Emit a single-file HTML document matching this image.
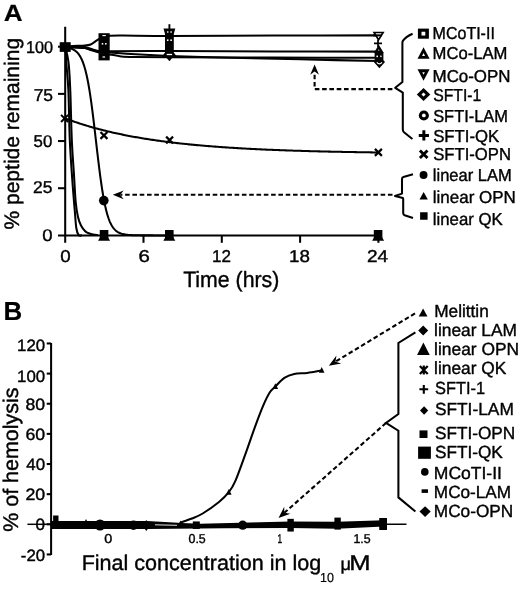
<!DOCTYPE html>
<html><head><meta charset="utf-8"><title>Figure</title>
<style>
html,body{margin:0;padding:0;background:#fff;}
body{width:520px;height:592px;overflow:hidden;}
svg{display:block;}
svg text{font-family:"Liberation Sans",sans-serif;fill:#000;stroke-linejoin:round;text-rendering:geometricPrecision;}
</style></head><body>
<svg width="520" height="592" viewBox="0 0 520 592">
<rect width="520" height="592" fill="#fff"/>
<g style="opacity:0.9999">
<g id="panelA">
<text transform="translate(3.85,21.10) scale(1.1162,1)" font-size="23.4" font-weight="bold" stroke="#000" stroke-width="0.2">A</text>
<path d="M65.2,26.8 V242.8 M58,235.4 H379.40" stroke="#000" stroke-width="2.05" fill="none"/>
<path d="M58,188.23 H65.2" stroke="#000" stroke-width="2.05"/>
<path d="M58,141.05 H65.2" stroke="#000" stroke-width="2.05"/>
<path d="M58,93.88 H65.2" stroke="#000" stroke-width="2.05"/>
<path d="M58,46.70 H65.2" stroke="#000" stroke-width="2.05"/>
<path d="M143.50,235.4 V242.8" stroke="#000" stroke-width="2.05"/>
<path d="M221.80,235.4 V242.8" stroke="#000" stroke-width="2.05"/>
<path d="M300.10,235.4 V242.8" stroke="#000" stroke-width="2.05"/>
<path d="M378.40,235.4 V242.8" stroke="#000" stroke-width="2.05"/>
<text transform="translate(26.08,53.40) scale(0.9533,1)" font-size="17.0" font-weight="normal" stroke="#000" stroke-width="0.4">100</text>
<text transform="translate(33.63,100.50) scale(1.0265,1)" font-size="17.0" font-weight="normal" stroke="#000" stroke-width="0.4">75</text>
<text transform="translate(33.53,146.50) scale(0.9889,1)" font-size="17.0" font-weight="normal" stroke="#000" stroke-width="0.4">50</text>
<text transform="translate(32.93,192.60) scale(1.0265,1)" font-size="17.0" font-weight="normal" stroke="#000" stroke-width="0.4">25</text>
<text transform="translate(42.26,240.60) scale(1.0907,1)" font-size="17.0" font-weight="normal" stroke="#000" stroke-width="0.4">0</text>
<text transform="translate(60.25,262.30) scale(1.0901,1)" font-size="17.2" font-weight="normal" stroke="#000" stroke-width="0.4">0</text>
<text transform="translate(138.48,262.30) scale(1.1878,1)" font-size="17.2" font-weight="normal" stroke="#000" stroke-width="0.4">6</text>
<text transform="translate(211.92,262.30) scale(0.9916,1)" font-size="17.2" font-weight="normal" stroke="#000" stroke-width="0.4">12</text>
<text transform="translate(289.09,262.30) scale(1.0927,1)" font-size="17.2" font-weight="normal" stroke="#000" stroke-width="0.4">18</text>
<text transform="translate(366.95,262.30) scale(1.1063,1)" font-size="17.2" font-weight="normal" stroke="#000" stroke-width="0.4">24</text>
<text transform="translate(183.17,286.80) scale(0.9588,1)" font-size="22.2" font-weight="normal" stroke="#000" stroke-width="0.4">Time (hrs)</text>
<text transform="translate(18.50,229.54) rotate(-90) scale(1.0010,1)" font-size="21.0" font-weight="normal" stroke="#000" stroke-width="0.4">% peptide remaining</text>
<path d="M65.20,118.41 L66.51,118.90 L67.81,119.38 L69.12,119.86 L70.42,120.33 L71.73,120.79 L73.03,121.25 L74.34,121.70 L75.64,122.14 L76.95,122.58 L78.25,123.02 L79.56,123.44 L80.86,123.86 L82.17,124.28 L83.47,124.69 L84.78,125.09 L86.08,125.49 L87.39,125.88 L88.69,126.27 L90.00,126.65 L91.30,127.02 L92.61,127.39 L93.91,127.76 L95.22,128.12 L96.52,128.48 L97.83,128.83 L99.13,129.17 L100.44,129.51 L101.74,129.85 L103.05,130.18 L104.35,130.51 L105.66,130.83 L106.96,131.15 L108.27,131.46 L109.57,131.77 L110.88,132.08 L112.18,132.38 L113.49,132.67 L114.79,132.96 L116.09,133.25 L117.40,133.54 L118.70,133.82 L120.01,134.09 L121.31,134.37 L122.62,134.63 L123.93,134.90 L125.23,135.16 L126.54,135.42 L127.84,135.67 L129.15,135.92 L130.45,136.17 L131.75,136.41 L133.06,136.65 L134.37,136.89 L135.67,137.12 L136.98,137.35 L138.28,137.58 L139.59,137.81 L140.89,138.03 L142.19,138.24 L143.50,138.46 L144.81,138.67 L146.11,138.88 L147.42,139.09 L148.72,139.29 L150.03,139.49 L151.33,139.69 L152.63,139.88 L153.94,140.07 L155.25,140.26 L156.55,140.45 L157.86,140.63 L159.16,140.82 L160.47,140.99 L161.77,141.17 L163.07,141.34 L164.38,141.52 L165.69,141.69 L166.99,141.85 L168.30,142.02 L169.60,142.18 L170.91,142.34 L172.21,142.50 L173.52,142.65 L174.82,142.81 L176.12,142.96 L177.43,143.11 L178.74,143.25 L180.04,143.40 L181.35,143.54 L182.65,143.68 L183.95,143.82 L185.26,143.96 L186.56,144.10 L187.87,144.23 L189.18,144.36 L190.48,144.49 L191.78,144.62 L193.09,144.74 L194.40,144.87 L195.70,144.99 L197.00,145.11 L198.31,145.23 L199.62,145.35 L200.92,145.47 L202.23,145.58 L203.53,145.69 L204.83,145.80 L206.14,145.91 L207.44,146.02 L208.75,146.13 L210.06,146.23 L211.36,146.34 L212.67,146.44 L213.97,146.54 L215.28,146.64 L216.58,146.74 L217.88,146.83 L219.19,146.93 L220.50,147.02 L221.80,147.12 L223.11,147.21 L224.41,147.30 L225.72,147.39 L227.02,147.47 L228.32,147.56 L229.63,147.65 L230.94,147.73 L232.24,147.81 L233.55,147.89 L234.85,147.98 L236.16,148.05 L237.46,148.13 L238.77,148.21 L240.07,148.29 L241.38,148.36 L242.68,148.44 L243.99,148.51 L245.29,148.58 L246.60,148.65 L247.90,148.72 L249.20,148.79 L250.51,148.86 L251.81,148.93 L253.12,148.99 L254.43,149.06 L255.73,149.12 L257.04,149.19 L258.34,149.25 L259.65,149.31 L260.95,149.37 L262.25,149.43 L263.56,149.49 L264.87,149.55 L266.17,149.61 L267.48,149.66 L268.78,149.72 L270.08,149.78 L271.39,149.83 L272.69,149.88 L274.00,149.94 L275.31,149.99 L276.61,150.04 L277.92,150.09 L279.22,150.14 L280.53,150.19 L281.83,150.24 L283.13,150.29 L284.44,150.33 L285.75,150.38 L287.05,150.43 L288.36,150.47 L289.66,150.52 L290.97,150.56 L292.27,150.60 L293.57,150.65 L294.88,150.69 L296.19,150.73 L297.49,150.77 L298.80,150.81 L300.10,150.85 L301.41,150.89 L302.71,150.93 L304.02,150.97 L305.32,151.01 L306.62,151.05 L307.93,151.08 L309.24,151.12 L310.54,151.15 L311.84,151.19 L313.15,151.22 L314.46,151.26 L315.76,151.29 L317.06,151.33 L318.37,151.36 L319.68,151.39 L320.98,151.42 L322.28,151.46 L323.59,151.49 L324.89,151.52 L326.20,151.55 L327.50,151.58 L328.81,151.61 L330.12,151.64 L331.42,151.66 L332.73,151.69 L334.03,151.72 L335.33,151.75 L336.64,151.77 L337.94,151.80 L339.25,151.83 L340.56,151.85 L341.86,151.88 L343.17,151.90 L344.47,151.93 L345.77,151.95 L347.08,151.98 L348.38,152.00 L349.69,152.03 L351.00,152.05 L352.30,152.07 L353.61,152.09 L354.91,152.12 L356.22,152.14 L357.52,152.16 L358.82,152.18 L360.13,152.20 L361.44,152.22 L362.74,152.24 L364.04,152.26 L365.35,152.28 L366.66,152.30 L367.96,152.32 L369.26,152.34 L370.57,152.36 L371.88,152.38 L373.18,152.40 L374.49,152.41 L375.79,152.43 L377.09,152.45 L378.40,152.47" stroke="#000" stroke-width="2.05" fill="none" stroke-linejoin="round"/>
<path d="M65.20,47.35 L65.64,47.41 L66.07,47.46 L66.51,47.53 L66.94,47.60 L67.38,47.67 L67.81,47.75 L68.25,47.84 L68.68,47.93 L69.12,48.04 L69.55,48.15 L69.98,48.26 L70.42,48.39 L70.86,48.53 L71.29,48.68 L71.73,48.85 L72.16,49.03 L72.59,49.22 L73.03,49.42 L73.47,49.65 L73.90,49.89 L74.34,50.15 L74.77,50.43 L75.20,50.73 L75.64,51.06 L76.08,51.42 L76.51,51.80 L76.95,52.21 L77.38,52.65 L77.81,53.13 L78.25,53.65 L78.69,54.21 L79.12,54.80 L79.56,55.45 L79.99,56.14 L80.43,56.88 L80.86,57.68 L81.30,58.54 L81.73,59.46 L82.17,60.44 L82.60,61.50 L83.03,62.63 L83.47,63.83 L83.91,65.12 L84.34,66.49 L84.78,67.96 L85.21,69.51 L85.65,71.17 L86.08,72.92 L86.52,74.78 L86.95,76.75 L87.39,78.82 L87.82,81.01 L88.25,83.31 L88.69,85.73 L89.12,88.27 L89.56,90.92 L90.00,93.68 L90.43,96.56 L90.87,99.55 L91.30,102.65 L91.73,105.85 L92.17,109.15 L92.61,112.53 L93.04,116.00 L93.47,119.55 L93.91,123.15 L94.34,126.82 L94.78,130.53 L95.22,134.27 L95.65,138.03 L96.09,141.80 L96.52,145.58 L96.95,149.33 L97.39,153.06 L97.83,156.75 L98.26,160.40 L98.70,163.98 L99.13,167.50 L99.56,170.93 L100.00,174.28 L100.44,177.54 L100.87,180.70 L101.31,183.76 L101.74,186.70 L102.18,189.54 L102.61,192.26 L103.05,194.86 L103.48,197.35 L103.92,199.72 L104.35,201.98 L104.78,204.12 L105.22,206.15 L105.66,208.08 L106.09,209.89 L106.53,211.61 L106.96,213.22 L107.40,214.74 L107.83,216.17 L108.27,217.50 L108.70,218.76 L109.14,219.93 L109.57,221.03 L110.00,222.06 L110.44,223.02 L110.88,223.91 L111.31,224.74 L111.75,225.52 L112.18,226.24 L112.62,226.92 L113.05,227.54 L113.49,228.12 L113.92,228.66 L114.36,229.16 L114.79,229.63 L115.23,230.06 L115.66,230.46 L116.09,230.83 L116.53,231.17 L116.97,231.49 L117.40,231.79 L117.84,232.06 L118.27,232.31 L118.70,232.55 L119.14,232.76 L119.58,232.96 L120.01,233.15 L120.45,233.32 L120.88,233.48 L121.31,233.62 L121.75,233.76 L122.19,233.88 L122.62,234.00 L123.06,234.11 L123.49,234.21 L123.93,234.30 L124.36,234.38 L124.80,234.46 L125.23,234.53 L125.67,234.60 L126.10,234.66 L126.54,234.72 L126.97,234.77 L127.41,234.82 L127.84,234.86 L128.28,234.90 L128.71,234.94 L129.15,234.98 L129.58,235.01 L130.02,235.04 L130.45,235.07 L130.88,235.09 L131.32,235.12 L131.75,235.14 L132.19,235.16 L132.62,235.18 L133.06,235.19 L133.50,235.21 L133.93,235.22 L134.37,235.24 L134.80,235.25 L135.24,235.26 L135.67,235.27 L136.11,235.28 L136.54,235.29 L136.98,235.30 L137.41,235.31 L137.84,235.31 L138.28,235.32 L138.72,235.33 L139.15,235.33 L139.59,235.34 L140.02,235.34 L140.46,235.35 L140.89,235.35 L141.32,235.35 L141.76,235.36 L142.19,235.36 L142.63,235.36 L143.06,235.37 L143.50,235.37 L143.94,235.37 L144.37,235.37 L144.81,235.38 L145.24,235.38 L145.68,235.38 L146.11,235.38 L146.55,235.38 L146.98,235.38 L147.42,235.39 L147.85,235.39 L148.28,235.39 L148.72,235.39 L149.16,235.39 L149.59,235.39 L150.03,235.39 L150.46,235.39 L150.90,235.39 L151.33,235.39 L151.77,235.39 L152.20,235.39 L152.63,235.39 L153.07,235.39 L153.50,235.40 L153.94,235.40 L154.38,235.40 L154.81,235.40 L155.25,235.40 L155.68,235.40 L156.12,235.40 L156.55,235.40 L156.99,235.40 L157.42,235.40 L157.86,235.40 L158.29,235.40 L158.73,235.40 L159.16,235.40 L159.60,235.40 L160.03,235.40 L160.47,235.40 L160.90,235.40 L161.34,235.40 L161.77,235.40 L162.21,235.40 L162.64,235.40 L163.07,235.40 L163.51,235.40 L163.94,235.40 L164.38,235.40 L164.81,235.40 L165.25,235.40 L165.69,235.40 L166.12,235.40 L166.56,235.40 L166.99,235.40 L167.43,235.40 L167.86,235.40 L168.30,235.40 L168.73,235.40 L169.17,235.40 L169.60,235.40" stroke="#000" stroke-width="2.05" fill="none" stroke-linejoin="round"/>
<path d="M65.20,46.80 C65.32,48.17 65.68,51.97 65.90,55.00 C66.12,58.03 66.08,59.05 66.50,65.00 C66.92,70.95 67.85,78.20 68.40,90.70 C68.95,103.20 69.15,125.12 69.80,140.00 C70.45,154.88 71.47,168.17 72.30,180.00 C73.13,191.83 74.13,203.00 74.80,211.00 C75.47,219.00 75.67,224.00 76.30,228.00 C76.93,232.00 77.65,233.77 78.60,235.00 C79.55,236.23 81.43,235.33 82.00,235.40" stroke="#000" stroke-width="2.05" fill="none"/>
<path d="M65.20,46.80 C65.50,48.00 66.40,50.97 67.00,54.00 C67.60,57.03 68.25,58.88 68.80,65.00 C69.35,71.12 69.80,78.20 70.30,90.70 C70.80,103.20 71.18,125.95 71.80,140.00 C72.42,154.05 73.35,164.67 74.00,175.00 C74.65,185.33 75.03,195.00 75.70,202.00 C76.37,209.00 77.12,213.08 78.00,217.00 C78.88,220.92 79.83,223.17 81.00,225.50 C82.17,227.83 83.83,229.75 85.00,231.00 C86.17,232.25 86.67,232.42 88.00,233.00 C89.33,233.58 91.33,234.13 93.00,234.50 C94.67,234.87 97.17,235.08 98.00,235.20" stroke="#000" stroke-width="2.05" fill="none"/>
<path d="M65.20,46.70 C66.24,46.61 70.42,46.19 73.03,46.04 C75.64,45.89 82.43,45.78 84.78,45.57 C87.12,45.35 89.05,45.11 90.65,44.44 C92.25,43.76 95.30,41.38 96.78,40.47 C98.26,39.57 99.98,38.27 101.74,37.64 C103.50,37.01 107.00,36.03 109.96,35.76 C112.92,35.48 115.97,35.54 123.93,35.57 C131.88,35.59 149.59,35.94 169.60,35.94 C189.61,35.94 246.16,35.64 274.00,35.57 C301.84,35.49 364.48,35.40 378.40,35.38" stroke="#000" stroke-width="2.05" fill="none"/>
<path d="M65.20,46.70 C66.24,46.70 70.42,46.65 73.03,46.70 C75.64,46.75 82.43,46.80 84.78,47.08 C87.12,47.35 88.82,48.25 90.65,48.78 C92.47,49.30 95.95,50.71 98.48,51.04 C101.00,51.37 100.09,51.23 109.57,51.23 C119.05,51.23 147.68,51.01 169.60,51.04 C191.52,51.07 246.16,51.34 274.00,51.42 C301.84,51.49 364.48,51.58 378.40,51.61" stroke="#000" stroke-width="2.05" fill="none"/>
<path d="M65.20,46.70 C66.24,46.80 70.42,47.28 73.03,47.45 C75.64,47.63 82.43,47.69 84.78,48.02 C87.12,48.35 88.82,49.35 90.65,49.91 C92.47,50.46 95.95,51.57 98.48,52.17 C101.00,52.78 106.53,53.86 109.57,54.44 C112.62,55.02 118.01,56.16 121.31,56.51 C124.62,56.86 127.93,56.98 134.37,57.08 C140.80,57.18 150.98,57.19 169.60,57.27 C188.22,57.34 246.16,57.57 274.00,57.64 C301.84,57.72 364.48,57.81 378.40,57.83" stroke="#000" stroke-width="2.05" fill="none"/>
<path d="M65.20,46.70 C66.24,46.75 70.42,46.95 73.03,47.08 C75.64,47.20 82.43,47.32 84.78,47.64 C87.12,47.97 88.82,48.98 90.65,49.53 C92.47,50.08 95.95,51.39 98.48,51.79 C101.00,52.20 105.83,52.30 109.57,52.55 C113.31,52.80 119.23,53.25 126.54,53.68 C133.84,54.11 158.64,55.43 164.38,55.76 C170.12,56.08 161.94,55.91 169.60,56.13 C177.26,56.36 204.40,57.03 221.80,57.46 C239.20,57.88 279.22,58.86 300.10,59.34 C320.98,59.82 367.96,60.81 378.40,61.04" stroke="#000" stroke-width="2.05" fill="none"/>
<rect x="59.7" y="42.2" width="11" height="9.7" fill="#000"/>
<path d="M61.05,114.86 L68.15,121.96 M61.05,121.96 L68.15,114.86" stroke="#000" stroke-width="2.0" fill="none"/>
<path d="M100.47,131.91 L107.43,138.87 M100.47,138.87 L107.43,131.91" stroke="#000" stroke-width="2.2" fill="none"/>
<path d="M166.12,136.63 L173.08,143.59 M166.12,143.59 L173.08,136.63" stroke="#000" stroke-width="2.2" fill="none"/>
<path d="M374.92,148.89 L381.88,155.85 M374.92,155.85 L381.88,148.89" stroke="#000" stroke-width="2.2" fill="none"/>
<circle cx="103.80" cy="200.60" r="4.85" fill="#000"/>
<rect x="99.75" y="230.00" width="8.6" height="10" fill="#000"/>
<polygon points="104.05,230.40 110.05,240.80 98.05,240.80" fill="#000"/>
<rect x="165.00" y="230.00" width="8.6" height="10" fill="#000"/>
<polygon points="169.30,230.40 175.30,240.80 163.30,240.80" fill="#000"/>
<rect x="373.80" y="230.00" width="8.6" height="10" fill="#000"/>
<polygon points="378.10,230.40 384.10,240.80 372.10,240.80" fill="#000"/>
<rect x="98.50" y="33.2" width="11.2" height="27.2" fill="#000"/>
<rect x="102.40" y="35.05" width="3.4" height="1.1" fill="#fff"/>
<rect x="101.75" y="43.00" width="1.5" height="1.6" fill="#fff"/>
<rect x="105.05" y="43.00" width="1.5" height="1.6" fill="#fff"/>
<rect x="102.50" y="56.40" width="2.6" height="1.2" fill="#fff"/>
<path d="M169.4,24.2 V30" stroke="#000" stroke-width="1.9"/>
<polygon points="163.50,28.4 175.30,28.4 173.80,34 173.80,52.6 176.70,56.6 171.90,58.2 169.40,61.2 166.90,58.2 162.10,56.6 165.00,52.6 165.00,34" fill="#000"/>
<rect x="166.95" y="31.30" width="1.5" height="1.4" fill="#fff"/>
<rect x="170.35" y="31.30" width="1.5" height="1.4" fill="#fff"/>
<rect x="166.90" y="39.40" width="1.6" height="1.6" fill="#fff"/>
<rect x="170.30" y="39.40" width="1.6" height="1.6" fill="#fff"/>
<rect x="166.70" y="53.85" width="5.4" height="1.3" fill="#fff"/>
<polygon points="378.60,39.90 383.10,32.50 374.10,32.50" fill="#fff" stroke="#000" stroke-width="1.7" stroke-linejoin="miter"/>
<path d="M373.1,35.38 H381.8" stroke="#000" stroke-width="2.05"/>
<path d="M374.00,43.40 H382.00 M378.00,39.65 V47.15" stroke="#000" stroke-width="1.7" fill="none"/>
<polygon points="378.80,44.70 383.80,52.90 373.80,52.90" fill="#000"/>
<polygon points="378.80,49.29 379.60,50.60 378.00,50.60" fill="#fff"/>
<rect x="374.60" y="52.40" width="8.8" height="7.6" fill="#000"/>
<rect x="376.40" y="55.60" width="1.6" height="1.6" fill="#fff"/>
<rect x="380.00" y="55.60" width="1.6" height="1.6" fill="#fff"/>
<polygon points="379.40,55.50 385.00,61.90 379.40,68.30 373.80,61.90" fill="#000"/>
<path d="M376.80,62.4 Q379.40,65.2 382.00,62.4" stroke="#fff" stroke-width="1.2" fill="none"/>
<path d="M392.5,194.8 H120.5" stroke="#000" stroke-width="2.1" stroke-dasharray="4.6 2.7" fill="none"/>
<polygon points="112.80,194.80 123.70,190.40 120.20,194.80 123.70,199.20" fill="#000"/>
<path d="M392.4,89.1 H314.6 V73" stroke="#000" stroke-width="2.1" stroke-dasharray="4.6 2.7" fill="none"/>
<polygon points="314.60,64.40 319.00,74.70 314.60,71.50 310.20,74.70" fill="#000"/>
<path d="M412.6,33.7 Q406,36.5 403,40.6 Q402.4,41.5 402.4,43 V82 L395.2,87.8 L402.8,92.6 V129.5 Q402.9,131.2 404,132.2 L412.4,139" stroke="#000" stroke-width="2.05" fill="none" stroke-linejoin="round"/>
<path d="M413,174.3 L403.4,177 Q402,177.4 402,179 V193.6 L395,196 L402.8,198 Q403.2,198.2 403.2,199 V213 Q403.2,214.6 404.6,215.2 L413,218" stroke="#000" stroke-width="2.05" fill="none" stroke-linejoin="round"/>
<text transform="translate(432.62,39.30) scale(0.9258,1)" font-size="17.3" font-weight="normal" stroke="#000" stroke-width="0.4">MCoTI-II</text>
<text transform="translate(432.57,58.60) scale(0.9616,1)" font-size="17.3" font-weight="normal" stroke="#000" stroke-width="0.4">MCo-LAM</text>
<text transform="translate(432.55,82.10) scale(0.9781,1)" font-size="17.3" font-weight="normal" stroke="#000" stroke-width="0.4">MCo-OPN</text>
<text transform="translate(433.19,101.30) scale(0.9124,1)" font-size="17.3" font-weight="normal" stroke="#000" stroke-width="0.4">SFTI-1</text>
<text transform="translate(433.16,121.50) scale(0.9499,1)" font-size="17.3" font-weight="normal" stroke="#000" stroke-width="0.4">SFTI-LAM</text>
<text transform="translate(433.14,142.20) scale(0.9701,1)" font-size="17.3" font-weight="normal" stroke="#000" stroke-width="0.4">SFTI-QK</text>
<text transform="translate(433.15,160.10) scale(0.9651,1)" font-size="17.3" font-weight="normal" stroke="#000" stroke-width="0.4">SFTI-OPN</text>
<text transform="translate(432.83,181.30) scale(0.9538,1)" font-size="17.3" font-weight="normal" stroke="#000" stroke-width="0.4">linear LAM</text>
<text transform="translate(432.80,203.00) scale(0.9819,1)" font-size="17.3" font-weight="normal" stroke="#000" stroke-width="0.4">linear OPN</text>
<text transform="translate(432.81,225.00) scale(0.9695,1)" font-size="17.3" font-weight="normal" stroke="#000" stroke-width="0.4">linear QK</text>
<rect x="417.90" y="28.60" width="11" height="10.1" fill="#000"/>
<rect x="421.50" y="31.75" width="3.8" height="3.8" fill="#fff"/>
<polygon points="423.55,47.30 429.60,58.80 417.50,58.80" fill="#000"/>
<polygon points="423.55,53.07 425.05,55.92 422.05,55.92" fill="#fff"/>
<polygon points="423.55,80.80 429.60,69.30 417.50,69.30" fill="#000"/>
<polygon points="423.55,74.78 424.85,72.31 422.25,72.31" fill="#fff"/>
<polygon points="423.55,88.05 430.30,94.50 423.55,100.95 416.80,94.50" fill="#000"/>
<polygon points="423.55,92.40 425.65,94.50 423.55,96.60 421.45,94.50" fill="#fff"/>
<circle cx="423.85" cy="115.45" r="5.05" fill="#000"/>
<circle cx="423.85" cy="115.45" r="1.9" fill="#fff"/>
<path d="M418.75,135.40 H428.95 M423.85,130.30 V140.50" stroke="#000" stroke-width="3" fill="none"/>
<path d="M419.91,150.41 L427.49,157.98 M419.91,157.98 L427.49,150.41" stroke="#000" stroke-width="2.9" fill="none"/>
<circle cx="423.55" cy="175.05" r="3.95" fill="#000"/>
<polygon points="423.65,191.90 427.85,199.60 419.45,199.60" fill="#000"/>
<rect x="420.10" y="212.25" width="7.5" height="7.5" fill="#000"/>
</g>
<g id="panelB">
<text transform="translate(3.42,319.60) scale(0.9962,1)" font-size="26.0" font-weight="bold" stroke="#000" stroke-width="0.2">B</text>
<path d="M51.1,343 V555" stroke="#000" stroke-width="2.05" fill="none"/>
<path d="M46.7,554.44 H51.1" stroke="#000" stroke-width="2.05"/>
<path d="M46.7,524.30 H51.1" stroke="#000" stroke-width="2.05"/>
<path d="M46.7,494.16 H51.1" stroke="#000" stroke-width="2.05"/>
<path d="M46.7,464.02 H51.1" stroke="#000" stroke-width="2.05"/>
<path d="M46.7,433.88 H51.1" stroke="#000" stroke-width="2.05"/>
<path d="M46.7,403.74 H51.1" stroke="#000" stroke-width="2.05"/>
<path d="M46.7,373.60 H51.1" stroke="#000" stroke-width="2.05"/>
<path d="M46.7,343.46 H51.1" stroke="#000" stroke-width="2.05"/>
<path d="M27.4,524.3 H51.1" stroke="#000" stroke-width="1.5"/>
<text transform="translate(17.04,350.90) scale(1.0274,1)" font-size="16.4" font-weight="normal" stroke="#000" stroke-width="0.4">120</text>
<text transform="translate(17.04,382.30) scale(1.0274,1)" font-size="16.4" font-weight="normal" stroke="#000" stroke-width="0.4">100</text>
<text transform="translate(25.50,409.60) scale(1.0774,1)" font-size="16.4" font-weight="normal" stroke="#000" stroke-width="0.4">80</text>
<text transform="translate(25.41,439.90) scale(1.0827,1)" font-size="16.4" font-weight="normal" stroke="#000" stroke-width="0.4">60</text>
<text transform="translate(26.26,470.10) scale(1.0346,1)" font-size="16.4" font-weight="normal" stroke="#000" stroke-width="0.4">40</text>
<text transform="translate(25.41,500.20) scale(1.0827,1)" font-size="16.4" font-weight="normal" stroke="#000" stroke-width="0.4">20</text>
<text transform="translate(35.62,530.40) scale(1.0417,1)" font-size="16.4" font-weight="normal" stroke="#000" stroke-width="0.4">0</text>
<text transform="translate(20.85,560.70) scale(1.0230,1)" font-size="16.4" font-weight="normal" stroke="#000" stroke-width="0.4">-20</text>
<text transform="translate(104.22,542.80) scale(1.1143,1)" font-size="12.9" font-weight="normal" stroke="#000" stroke-width="0.4">0</text>
<text transform="translate(188.50,542.80) scale(0.9646,1)" font-size="12.9" font-weight="normal" stroke="#000" stroke-width="0.4">0.5</text>
<text transform="translate(277.38,542.80) scale(0.6415,1)" font-size="12.9" font-weight="normal" stroke="#000" stroke-width="0.4">1</text>
<text transform="translate(353.47,542.80) scale(0.9606,1)" font-size="12.9" font-weight="normal" stroke="#000" stroke-width="0.4">1.5</text>
<text transform="translate(17.90,531.85) rotate(-90) scale(1.0129,1)" font-size="21.2" font-weight="normal" stroke="#000" stroke-width="0.4">% of hemolysis</text>
<text transform="translate(81.68,569.50) scale(1.0113,1)" font-size="21.3" font-weight="normal" stroke="#000" stroke-width="0.4">Final concentration in log</text>
<text transform="translate(320.06,581.60) scale(0.9615,1)" font-size="13" font-weight="normal" stroke="#000" stroke-width="0.2">10</text>
<text transform="translate(340.42,569.50) scale(0.9990,1)" font-size="18.2" font-weight="normal" stroke="#000" stroke-width="0.4">μ</text>
<text transform="translate(349.26,569.50) scale(1.1982,1)" font-size="21.3" font-weight="normal" stroke="#000" stroke-width="0.4">M</text>
<path d="M180.50,522.50 C182.42,521.83 188.30,520.00 192.00,518.50 C195.70,517.00 198.20,516.25 202.70,513.50 C207.20,510.75 214.65,505.55 219.00,502.00 C223.35,498.45 226.07,495.73 228.80,492.20 C231.53,488.67 232.67,487.07 235.40,480.80 C238.13,474.53 241.93,463.60 245.20,454.60 C248.47,445.60 252.00,434.97 255.00,426.80 C258.00,418.63 260.75,411.32 263.20,405.60 C265.65,399.88 267.68,395.67 269.70,392.50 C271.72,389.33 272.85,389.05 275.30,386.60 C277.75,384.15 281.25,379.92 284.40,377.80 C287.55,375.68 290.38,374.72 294.20,373.90 C298.02,373.08 302.83,373.45 307.30,372.90 C311.77,372.35 318.72,370.98 321.00,370.60" stroke="#000" stroke-width="2.05" fill="none"/>
<polygon points="228.80,488.90 231.60,494.70 226.00,494.70" fill="#000"/>
<polygon points="275.30,383.30 278.10,389.10 272.50,389.10" fill="#000"/>
<polygon points="321.70,366.90 324.50,372.70 318.90,372.70" fill="#000"/>
<polygon points="180.40,520.50 182.90,525.50 177.90,525.50" fill="#000"/>
<path d="M51,520.9 L147,520.9 L165,522.0 L182,523.0 L200,523.8 L240,522.8 L290,521.6 L337,521.8 L384,520.3 L387,523.4 L406.5,523.4 L406.5,525 L387,525 L384,526.6 L337,528.8 L290,528 L225,528.2 L200,528.5 L147,528.9 L51,528.9 Z" fill="#000"/>
<path d="M155,524.8 L177,525.3" stroke="#fff" stroke-width="0.9"/>
<rect x="53.10" y="515.50" width="5.4" height="8" fill="#000"/>
<circle cx="100.00" cy="525.00" r="5.5" fill="#000"/>
<polygon points="146.30,520.00 150.30,525.50 146.30,531.00 142.30,525.50" fill="#000"/>
<circle cx="133.50" cy="525.20" r="4.8" fill="#000"/>
<polygon points="86.00,519.00 88.00,523.00 84.00,523.00" fill="#000"/>
<rect x="192.80" y="521.45" width="7" height="7.5" fill="#000"/>
<circle cx="242.70" cy="525.20" r="4.6" fill="#000"/>
<rect x="287.40" y="518.85" width="6.4" height="12.7" fill="#000"/>
<rect x="334.40" y="517.60" width="6.4" height="12" fill="#000"/>
<rect x="379.20" y="518.00" width="7.8" height="12" fill="#000"/>
<path d="M415,313.4 L335.47,361.65" stroke="#000" stroke-width="2.1" stroke-dasharray="4.6 2.7" fill="none"/>
<polygon points="328.80,365.70 336.45,355.56 335.47,361.65 341.33,363.60" fill="#000"/>
<path d="M386,423 L284.34,512.83" stroke="#000" stroke-width="2.1" stroke-dasharray="4.6 2.7" fill="none"/>
<polygon points="278.50,518.00 284.23,506.66 284.34,512.83 290.45,513.71" fill="#000"/>
<path d="M415.4,332.4 L398.4,343 V414 L386,422.9 L398.4,430.7 V497.4 L415.4,511.5" stroke="#000" stroke-width="2.05" fill="none"/>
<text transform="translate(434.22,317.10) scale(0.9839,1)" font-size="17.5" font-weight="normal" stroke="#000" stroke-width="0.4">Melittin</text>
<text transform="translate(434.07,335.60) scale(0.9923,1)" font-size="17.5" font-weight="normal" stroke="#000" stroke-width="0.4">linear LAM</text>
<text transform="translate(434.07,355.00) scale(0.9935,1)" font-size="17.5" font-weight="normal" stroke="#000" stroke-width="0.4">linear OPN</text>
<text transform="translate(434.07,374.40) scale(0.9906,1)" font-size="17.5" font-weight="normal" stroke="#000" stroke-width="0.4">linear QK</text>
<text transform="translate(434.96,393.70) scale(0.9366,1)" font-size="17.5" font-weight="normal" stroke="#000" stroke-width="0.4">SFTI-1</text>
<text transform="translate(434.92,415.10) scale(0.9894,1)" font-size="17.5" font-weight="normal" stroke="#000" stroke-width="0.4">SFTI-LAM</text>
<text transform="translate(434.92,439.00) scale(0.9843,1)" font-size="17.5" font-weight="normal" stroke="#000" stroke-width="0.4">SFTI-OPN</text>
<text transform="translate(434.93,458.20) scale(0.9825,1)" font-size="17.5" font-weight="normal" stroke="#000" stroke-width="0.4">SFTI-QK</text>
<text transform="translate(433.80,478.50) scale(1.0013,1)" font-size="17.5" font-weight="normal" stroke="#000" stroke-width="0.4">MCoTI-II</text>
<text transform="translate(433.83,497.70) scale(0.9809,1)" font-size="17.5" font-weight="normal" stroke="#000" stroke-width="0.4">MCo-LAM</text>
<text transform="translate(433.82,517.10) scale(0.9836,1)" font-size="17.5" font-weight="normal" stroke="#000" stroke-width="0.4">MCo-OPN</text>
<polygon points="423.10,308.40 427.50,316.60 418.70,316.60" fill="#000"/>
<polygon points="423.20,325.40 428.20,330.40 423.20,335.40 418.20,330.40" fill="#000"/>
<polygon points="423.40,342.50 429.75,354.90 417.05,354.90" fill="#000"/>
<path d="M419.85,365.95 L427.75,374.05 M419.85,374.05 L427.75,365.95 M423.80,365.40 V374.60" stroke="#000" stroke-width="2.2" fill="none"/>
<path d="M419.40,389.30 H428.20 M423.80,384.90 V393.70" stroke="#000" stroke-width="2.1" fill="none"/>
<polygon points="424.10,406.30 428.20,410.50 424.10,414.70 420.00,410.50" fill="#000"/>
<rect x="419.50" y="430.40" width="8.0" height="7.6" fill="#000"/>
<rect x="418.10" y="446.60" width="12.8" height="12.2" fill="#000"/>
<circle cx="424.80" cy="471.90" r="3.8" fill="#000"/>
<rect x="421.60" y="489.30" width="6.4" height="3.6" fill="#000"/>
<polygon points="425.10,506.30 430.70,511.60 425.10,516.90 419.50,511.60" fill="#000"/>
</g>
</g>
</svg>
</body></html>
